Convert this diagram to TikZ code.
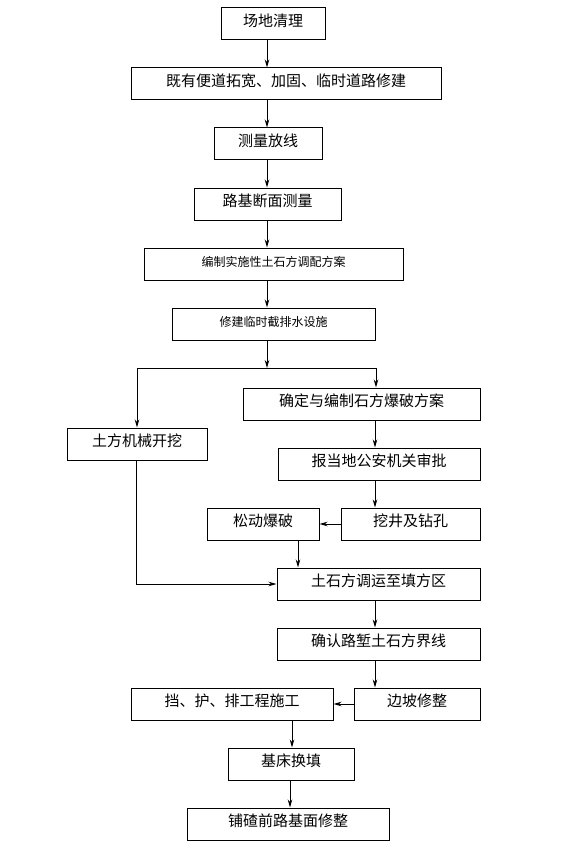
\documentclass[tikz,border=0pt]{standalone}
\usepackage{fontspec}
\setmainfont{Noto Sans CJK SC}
\usetikzlibrary{arrows.meta,calc}
\tikzset{
  box/.style={draw=black,line width=1pt,align=center,minimum height=32pt,inner sep=0pt,text height=11pt,text depth=6pt,font=\fontsize{15}{15}\selectfont},
  smallbox/.style={box,text height=9pt,text depth=4pt,font=\fontsize{12}{12}\selectfont},
  arrow/.style={-{Stealth[length=8pt,width=4.5pt,inset=2.5pt]},line width=0.9pt,draw=black},
  line/.style={line width=0.9pt,draw=black}
}
\begin{document}
\begin{tikzpicture}[x=1pt,y=-1pt]
  \useasboundingbox[fill=white] (0,0) rectangle (573,853);

  % main column
  \node (site) [box,minimum width=104pt] at (273,24) {场地清理};
  \node (road) [box,minimum width=310pt] at (286,84) {既有便道拓宽、加固、临时道路修建};
  \node (survey) [box,minimum width=108pt] at (268,144) {测量放线};
  \node (section) [box,minimum width=147pt] at (267.5,204) {路基断面测量};
  \node (plan) [smallbox,minimum width=259pt] at (273.5,264) {编制实施性土石方调配方案};
  \node (drain) [smallbox,minimum width=203pt] at (273.5,324) {修建临时截排水设施};

  % two branches
  \node (mech) [box,minimum width=140pt] at (137,444) {土方机械开挖};
  \node (blastplan) [box,minimum width=237pt] at (361.5,404) {确定与编制石方爆破方案};
  \node (approve) [box,minimum width=202pt] at (379,464) {报当地公安机关审批};
  \node (drill) [box,minimum width=139pt] at (410.5,524) {挖井及钻孔};
  \node (loose) [box,minimum width=112pt] at (263,524) {松动爆破};

  \node (haul) [box,minimum width=203pt] at (378.5,584) {土石方调运至填方区};
  \node (bound) [box,minimum width=203pt] at (378.5,644) {确认路堑土石方界线};
  \node (slope) [box,minimum width=126pt] at (417,704) {边坡修整};
  \node (retain) [box,minimum width=202pt] at (232,704) {挡、护、排工程施工};
  \node (bed) [box,minimum width=126pt] at (291,764) {基床换填};
  \node (finish) [box,minimum width=202pt] at (288,824) {铺碴前路基面修整};

  \coordinate (spine) at (267,0);
  \coordinate (split) at (267,368);
  \coordinate (splitL) at (137,368);
  \coordinate (splitR) at (376,368);
  \coordinate (right) at (375,0);

  \draw[arrow] (site.south -| spine) -- (road.north -| spine);
  \draw[arrow] (road.south -| spine) -- (survey.north -| spine);
  \draw[arrow] (survey.south -| spine) -- (section.north -| spine);
  \draw[arrow] (section.south -| spine) -- (plan.north -| spine);
  \draw[arrow] (plan.south -| spine) -- (drain.north -| spine);
  \draw[arrow] (drain.south -| spine) -- (split);
  \draw[line] (splitL) -- (splitR);
  \draw[arrow] (splitL) -- (mech.north -| splitL);
  \draw[arrow] (splitR) -- (blastplan.north -| splitR);

  \draw[arrow] (blastplan.south -| right) -- (approve.north -| right);
  \draw[arrow] (approve.south -| right) -- (drill.north -| right);
  \draw[arrow] (drill) -- (loose);
  \draw[arrow] ($(loose.south)+(35,0)$) -- ($(haul.north -| loose.south)+(35,0)$);
  \draw[arrow] ($(mech.south)+(-1,0)$) |- (haul.west);
  \draw[arrow] (haul.south -| right) -- (bound.north -| right);
  \draw[arrow] (bound.south -| right) -- (slope.north -| right);
  \draw[arrow] (slope) -- (retain);
  \draw[arrow] ($(retain.south)+(60,0)$) -- ($(bed.north -| retain.south)+(60,0)$);
  \draw[arrow] ($(bed.south)+(-1,0)$) -- ($(finish.north -| bed.south)+(-1,0)$);
\end{tikzpicture}
\end{document}
